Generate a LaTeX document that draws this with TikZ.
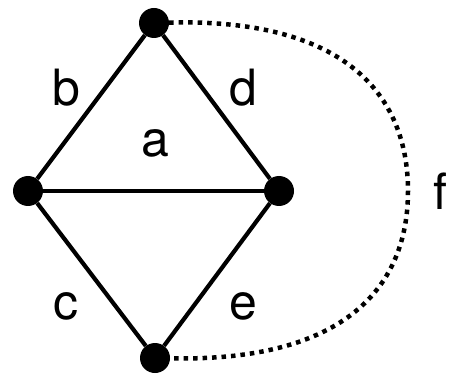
\documentclass[tikz,border=0pt]{standalone}
\usepackage{fontspec}
\setmainfont{TeX Gyre Heros}
\begin{document}
\begin{tikzpicture}[x=1pt,y=-1pt,
    vertex/.style={circle,fill=black,minimum size=30pt,inner sep=0pt},
    edge/.style={line width=4.2pt},
    loose/.style={line width=4.5pt,dash pattern=on 4.5pt off 5pt},
    lbl/.style={font=\fontsize{50}{50}\selectfont,inner sep=0pt}
]
\useasboundingbox (0,0) rectangle (449,379);

\node[vertex] (T) at (154,23)  {};
\node[vertex] (L) at (28,191)  {};
\node[vertex] (R) at (279,191) {};
\node[vertex] (B) at (155,358) {};
\coordinate (F) at (408,191);

\node[lbl] (lb) at (66,88)   {b};
\node[lbl] (ld) at (243,88)  {d};
\node[lbl] (la) at (155,143) {a};
\node[lbl] (lc) at (66,306)  {c};
\node[lbl] (le) at (243,306) {e};
\node[lbl] (lf) at (440,191) {f};

\draw[edge] (T) -- (L);
\draw[edge] (T) -- (R);
\draw[edge] (L) -- (R);
\draw[edge] (L) -- (B);
\draw[edge] (R) -- (B);
\draw[loose] (T) .. controls (345,18) and (408,95) .. (F)
             .. controls (408,287) and (345,362) .. (B);
\end{tikzpicture}
\end{document}
